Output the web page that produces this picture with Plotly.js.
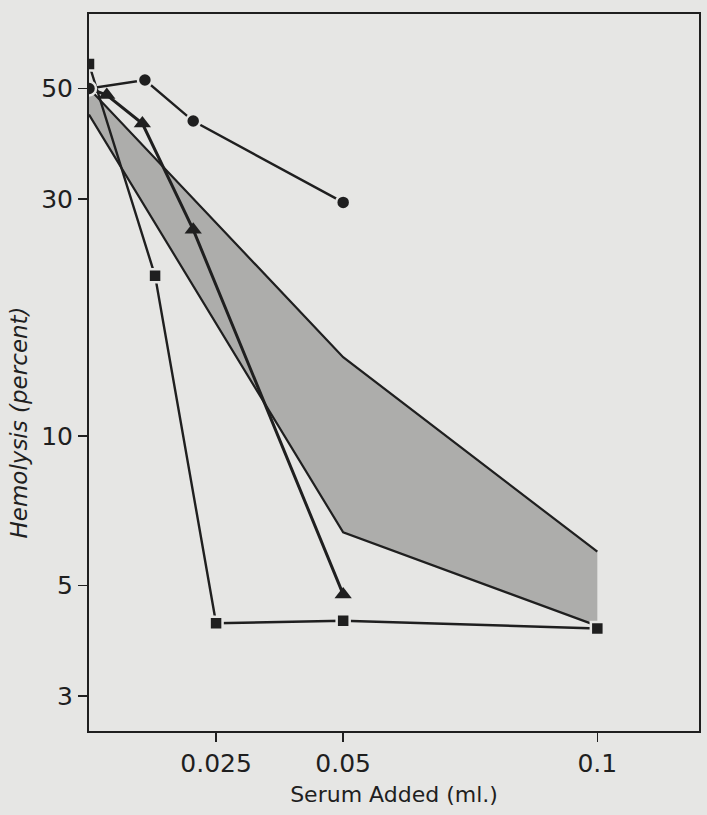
<!DOCTYPE html>
<html>
<head>
<meta charset="utf-8">
<script src="https://cdn.plot.ly/plotly-3.0.1.min.js"></script>
<style>
html,body{margin:0;padding:0;background:#e6e6e4;}
#chart{width:707px;height:815px;}
</style>
</head>
<body>
<div id="chart"></div>
<script>
// ---- data ----
const circleX = [0, 0.011, 0.0205, 0.05];
const circleY = [50, 52, 43, 29.5];

const triangleX = [0, 0.0035, 0.0105, 0.0205, 0.05];
const triangleY = [50, 48.5, 42.5, 26, 4.8];

const squareX = [0, 0.013, 0.025, 0.05, 0.1];
const squareY = [56, 21, 4.2, 4.25, 4.1];

const bandX = [0, 0.05, 0.1];
const bandUpper = [50, 14.4, 5.85];
const bandLower = [44.3, 6.4, 4.15];

const xTickVals = [0.025, 0.05, 0.1];
const xTickText = ["0.025", "0.05", "0.1"];
const yTickVals = [3, 5, 10, 30, 50];
const yTickText = ["3", "5", "10", "30", "50"];

const bg = "#e6e6e4";
const ink = "#1f1f1f";
const font = "DejaVu Sans, sans-serif";

const polyX = bandX.concat(bandX.slice().reverse());
const polyY = bandUpper.concat(bandLower.slice().reverse());

const traces = [
  {x: polyX, y: polyY, mode: "lines", fill: "toself", fillcolor: "#adadab",
   line: {width: 0, color: "rgba(0,0,0,0)"}, hoverinfo: "skip"},
  {x: bandX, y: bandUpper, mode: "lines", line: {color: ink, width: 2.2}},
  {x: bandX, y: bandLower, mode: "lines", line: {color: ink, width: 2.2}},
  {x: squareX, y: squareY, mode: "lines+markers",
   line: {color: ink, width: 2.4},
   marker: {symbol: "square", size: 13, color: ink, line: {color: bg, width: 2.5}}},
  {x: triangleX, y: triangleY, mode: "lines+markers",
   line: {color: ink, width: 3},
   marker: {symbol: "triangle-up", size: 15, color: ink}},
  {x: circleX, y: circleY, mode: "lines+markers",
   line: {color: ink, width: 2.4},
   marker: {symbol: "circle", size: 14, color: ink, line: {color: bg, width: 2.5}}}
];

const layout = {
  width: 707, height: 815,
  paper_bgcolor: bg, plot_bgcolor: bg,
  showlegend: false,
  margin: {l: 89, r: 8, t: 14, b: 84},
  font: {family: font, color: ink, size: 24},
  xaxis: {
    range: [0, 0.12], showgrid: false, zeroline: false,
    showline: true, mirror: true, linecolor: ink, linewidth: 2,
    ticks: "outside", ticklen: 9, tickwidth: 1.5, tickcolor: ink,
    tickvals: xTickVals, ticktext: xTickText,
    tickfont: {family: font, size: 25, color: ink},
    title: {text: "Serum Added (ml.)", font: {family: font, size: 22, color: ink}, standoff: 10}
  },
  yaxis: {
    type: "log", range: [Math.log10(2.55), Math.log10(70.6)],
    showgrid: false, zeroline: false,
    showline: true, mirror: true, linecolor: ink, linewidth: 2,
    ticks: "outside", ticklen: 9, tickwidth: 1.5, tickcolor: ink,
    tickvals: yTickVals, ticktext: yTickText,
    tickfont: {family: font, size: 25, color: ink}
  },
  annotations: [{
    text: "<i>Hemolysis (percent)</i>", textangle: -90,
    xref: "paper", yref: "paper", x: -0.115, y: 0.43,
    xanchor: "center", yanchor: "middle", showarrow: false,
    font: {family: font, size: 23, color: ink}
  }]
};

Plotly.newPlot("chart", traces, layout, {staticPlot: true});
</script>
</body>
</html>
